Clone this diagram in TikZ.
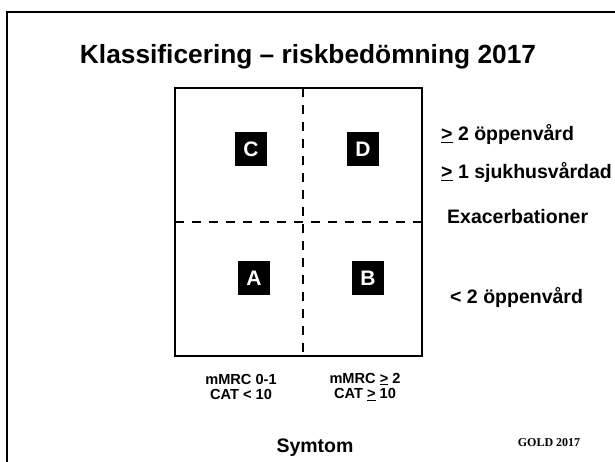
\documentclass[tikz,border=0pt]{standalone}
\usepackage{fontspec}
\setmainfont{Liberation Sans}
\newfontfamily\goldfont{Liberation Serif}
\begin{document}
\begin{tikzpicture}[x=1pt,y=-1pt,
  lbl/.style={font=\bfseries\fontsize{#1}{#1}\selectfont, inner sep=0pt},
  letterbox/.style={fill=black, text=white, font=\bfseries\fontsize{21}{21}\selectfont,
    minimum width=32pt, minimum height=34pt, inner sep=0pt},
  divider/.style={line width=2.2pt, dash pattern=on 9pt off 8pt}]
\useasboundingbox (0,0) rectangle (615,462);
\clip (0,0) rectangle (615,462);
% outer frame (partly cut off)
\draw[line width=2.2pt] (7,12) rectangle (650,500);
% title
\node[lbl=26.3] (title) at (308,57) {Klassificering – riskbedömning 2017};
% matrix box
\draw[line width=1.9pt] (175,88) rectangle (422,356);
\coordinate (vt) at (303,88);
\coordinate (vb) at (303,356);
\coordinate (hl) at (175,222);
\coordinate (hr) at (422,222);
\draw[divider] (vt) -- (vb);
\draw[divider] (hl) -- (hr);
% letters
\node[letterbox] (C) at (251,149) {C};
\node[letterbox] (D) at (363,149) {D};
\node[letterbox] (A) at (254,278) {A};
\node[letterbox] (B) at (368,278) {B};
% right labels
\node[lbl=19.5, anchor=west] (r1) at (441,135) {\underline{>} 2 öppenvård};
\node[lbl=19.5, anchor=west] (r2) at (441,173) {\underline{>} 1 sjukhusvårdad};
\node[lbl=19.5, anchor=west] (r3) at (447,217) {Exacerbationer};
\node[lbl=19.5, anchor=west] (r4) at (450,298) {< 2 öppenvård};
% bottom labels
\node[lbl=14.6, align=center] (s1) at (241,387) {mMRC 0-1\\[1pt]CAT < 10};
\node[lbl=14.6, align=center] (s2) at (365,387) {mMRC \underline{>} 2\\[1pt]CAT \underline{>} 10};
\node[lbl=19.5] (sym) at (315,448) {Symtom};
\node[font=\goldfont\bfseries\fontsize{12}{12}\selectfont, inner sep=0pt] (gold) at (549,443) {GOLD 2017};
\end{tikzpicture}
\end{document}
